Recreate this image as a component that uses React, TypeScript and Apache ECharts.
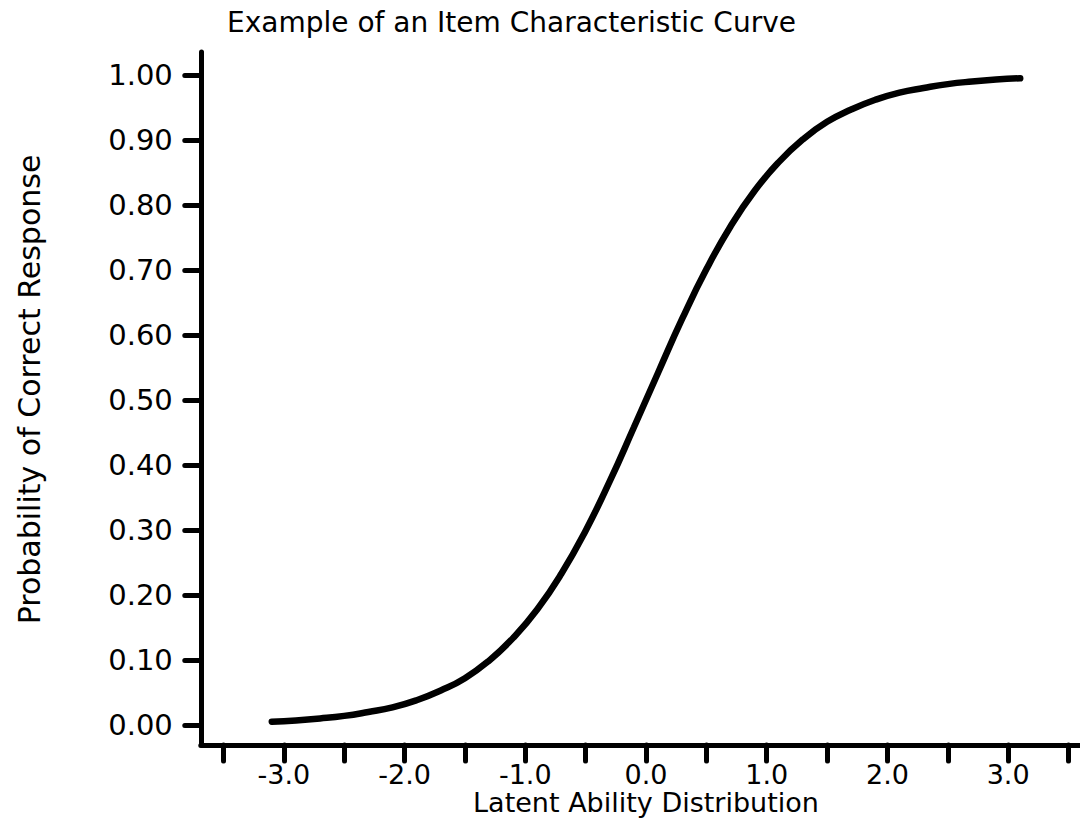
import React, { useEffect, useRef } from "react";
import * as echarts from "echarts";

const titleText = "Example of an Item Characteristic Curve";
const xName = "Latent Ability Distribution";
const yName = "Probability of Correct Response";

const abilityX = [
  -3.1, -2.9, -2.7, -2.5, -2.3, -2.1, -1.9, -1.7, -1.5, -1.3, -1.1, -0.9, -0.7, -0.5, -0.3, -0.1,
  0.1, 0.3, 0.5, 0.7, 0.9, 1.1, 1.3, 1.5, 1.7, 1.9, 2.1, 2.3, 2.5, 2.7, 2.9, 3.1,
];
const probY = [
  0.005, 0.007, 0.01, 0.014, 0.02, 0.027, 0.038, 0.053, 0.072, 0.099, 0.134, 0.178, 0.233, 0.299, 0.375, 0.458,
  0.542, 0.625, 0.701, 0.767, 0.822, 0.866, 0.901, 0.928, 0.947, 0.962, 0.973, 0.98, 0.986, 0.99, 0.993, 0.995,
];

const xTickValues = [-3.5, -3, -2.5, -2, -1.5, -1, -0.5, 0, 0.5, 1, 1.5, 2, 2.5, 3, 3.5];
const xLabelValues = [-3, -2, -1, 0, 1, 2, 3];
const yTickValues = [0, 0.1, 0.2, 0.3, 0.4, 0.5, 0.6, 0.7, 0.8, 0.9, 1.0];

const FONT = "DejaVu Sans";

export default function App() {
  const ref = useRef<HTMLDivElement>(null);
  useEffect(() => {
    if (!ref.current) return;
    const chart = echarts.init(ref.current, null, { renderer: "svg" });
    const axisLineStyle = { color: "#000", width: 5, cap: "round" as const };
    chart.setOption({
      animation: false,
      backgroundColor: "#fff",
      title: {
        text: titleText,
        left: 227,
        top: 8,
        padding: 0,
        textStyle: { fontFamily: FONT, fontSize: 28, fontWeight: "normal", color: "#000" },
      },
      grid: {
        left: 200.8,
        top: 52,
        width: 890.4,
        height: 693,
        outerBoundsMode: "none",
        containLabel: false,
      },
      xAxis: {
        type: "value",
        min: -3.688,
        max: 3.688,
        name: xName,
        nameLocation: "middle",
        nameGap: 44,
        nameMoveOverlap: false,
        nameTextStyle: { fontFamily: FONT, fontSize: 27, color: "#000" },
        axisLine: { show: true, onZero: false, lineStyle: axisLineStyle },
        axisTick: {
          show: true,
          length: 16,
          customValues: xTickValues,
          lineStyle: { color: "#000", width: 5, cap: "round" },
        },
        axisLabel: {
          show: true,
          customValues: xLabelValues,
          margin: 16,
          fontFamily: FONT,
          fontSize: 27,
          color: "#000",
          formatter: (v: number) => v.toFixed(1),
        },
        splitLine: { show: false },
      },
      yAxis: {
        type: "value",
        min: -0.0308,
        max: 1.0354,
        name: yName,
        nameLocation: "middle",
        nameGap: 156,
        nameRotate: 90,
        nameMoveOverlap: false,
        nameTextStyle: { fontFamily: FONT, fontSize: 30, color: "#000", padding: [0, 0, 0, 18] },
        axisLine: { show: true, onZero: false, lineStyle: axisLineStyle },
        axisTick: {
          show: true,
          length: 16,
          customValues: yTickValues,
          lineStyle: { color: "#000", width: 5, cap: "round" },
        },
        axisLabel: {
          show: true,
          customValues: yTickValues,
          margin: 28,
          fontFamily: FONT,
          fontSize: 29,
          color: "#000",
          formatter: (v: number) => v.toFixed(2),
        },
        splitLine: { show: false },
      },
      series: [
        {
          type: "line",
          data: abilityX.map((x, i) => [x, probY[i]]),
          smooth: true,
          showSymbol: false,
          symbol: "none",
          lineStyle: { color: "#000", width: 6.5, cap: "round" },
        },
      ],
    });
    return () => chart.dispose();
  }, []);
  return (
    <div
      ref={ref}
      style={{ position: "absolute", left: 0, top: 0, width: 1080, height: 820, background: "#fff" }}
    />
  );
}
